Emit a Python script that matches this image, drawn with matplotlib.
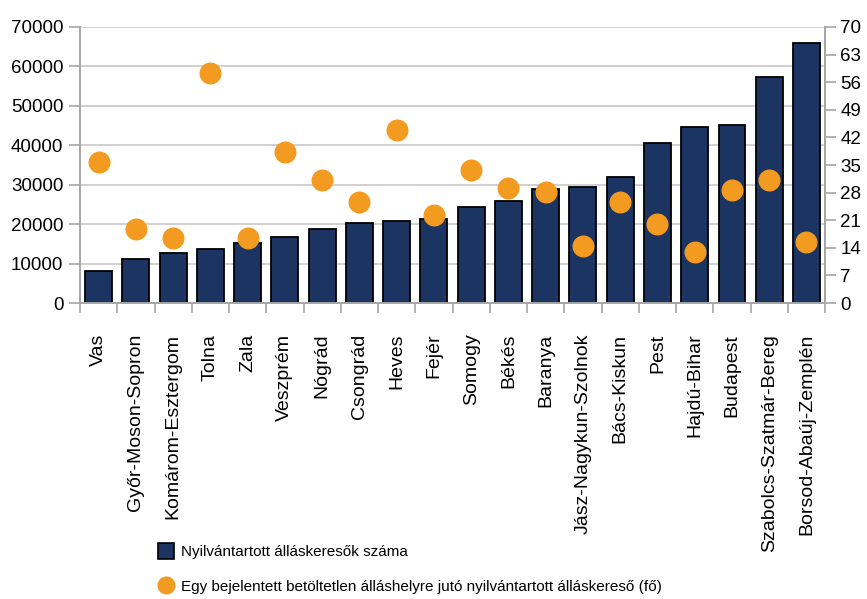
import matplotlib.pyplot as plt
from matplotlib.lines import Line2D
import numpy as np

plt.rcParams['font.family'] = ['Liberation Sans', 'DejaVu Sans']

# megyék (categories)
counties = ['Vas', 'Győr-Moson-Sopron', 'Komárom-Esztergom', 'Tolna', 'Zala',
            'Veszprém', 'Nógrád', 'Csongrád', 'Heves', 'Fejér', 'Somogy',
            'Békés', 'Baranya', 'Jász-Nagykun-Szolnok', 'Bács-Kiskun', 'Pest',
            'Hajdú-Bihar', 'Budapest', 'Szabolcs-Szatmár-Bereg',
            'Borsod-Abaúj-Zemplén']

# registered job seekers (left axis)
job_seekers = [8100, 11200, 12700, 13700, 15300, 16800, 18800, 20300, 20900,
               21400, 24300, 25900, 29000, 29400, 32000, 40600, 44700, 45200,
               57400, 66000]

# job seekers per vacancy (right axis)
per_vacancy = [35.8, 18.7, 16.6, 58.3, 16.6, 38.4, 31.3, 25.7, 44.0, 22.3,
               33.8, 29.2, 28.2, 14.5, 25.7, 20.1, 13.0, 28.7, 31.3, 15.6]

left_ticks = [0, 10000, 20000, 30000, 40000, 50000, 60000, 70000]
right_ticks = [0, 7, 14, 21, 28, 35, 42, 49, 56, 63, 70]

label_bars = 'Nyilvántartott álláskeresők száma'
label_dots = 'Egy bejelentett betöltetlen álláshelyre jutó nyilvántartott álláskereső (fő)'

navy = '#1b3461'
orange = '#f39a21'
gray = '#a6a6a6'

fig = plt.figure(figsize=(8.67, 5.99), dpi=100)
ax = fig.add_axes([0.0923, 0.494, 0.8593, 0.461])
x = np.arange(len(counties))

ax.bar(x, job_seekers, width=0.72, color=navy, edgecolor='black',
       linewidth=1.3, zorder=2)
ax.set_ylim(0, 70000)
ax.set_yticks(left_ticks)
ax.set_xlim(-0.5, len(counties) - 0.5)
ax.yaxis.grid(True, color='#c8c8c8', linewidth=1.2, zorder=0)
ax.set_axisbelow(True)

ax.set_xticks(x)
ax.set_xticklabels(counties, rotation=90, fontsize=14)
ax.set_xticks(np.arange(-0.5, len(counties)), minor=True)
ax.tick_params(axis='x', which='major', length=0, pad=22)
ax.tick_params(axis='x', which='minor', length=7, width=1.2, color=gray)
ax.tick_params(axis='y', labelsize=13.5, length=8, width=1.2, color=gray, pad=4)

ax.spines['top'].set_visible(False)
for s in ['left', 'bottom', 'right']:
    ax.spines[s].set_color(gray)
    ax.spines[s].set_linewidth(1.4)

ax2 = ax.twinx()
ax2.scatter(x, per_vacancy, s=220, color=orange, zorder=3)
ax2.set_ylim(0, 70)
ax2.set_yticks(right_ticks)
ax2.tick_params(axis='y', labelsize=13.5, length=8, width=1.2, color=gray, pad=3)
for s in ['top', 'left', 'bottom']:
    ax2.spines[s].set_visible(False)
ax2.spines['right'].set_color(gray)
ax2.spines['right'].set_linewidth(1.4)

handles = [Line2D([], [], linestyle='none', marker='s', markersize=11,
                  markerfacecolor=navy, markeredgecolor='black', markeredgewidth=1.2),
           Line2D([], [], linestyle='none', marker='o', markersize=12,
                  markerfacecolor=orange, markeredgecolor=orange)]
fig.legend(handles, [label_bars, label_dots],
           loc='upper left', bbox_to_anchor=(0.183, 0.090), frameon=False,
           fontsize=11, labelspacing=1.35, handletextpad=0.45, handlelength=1.0,
           borderaxespad=0, borderpad=0)

plt.savefig('out.png', dpi=100)
